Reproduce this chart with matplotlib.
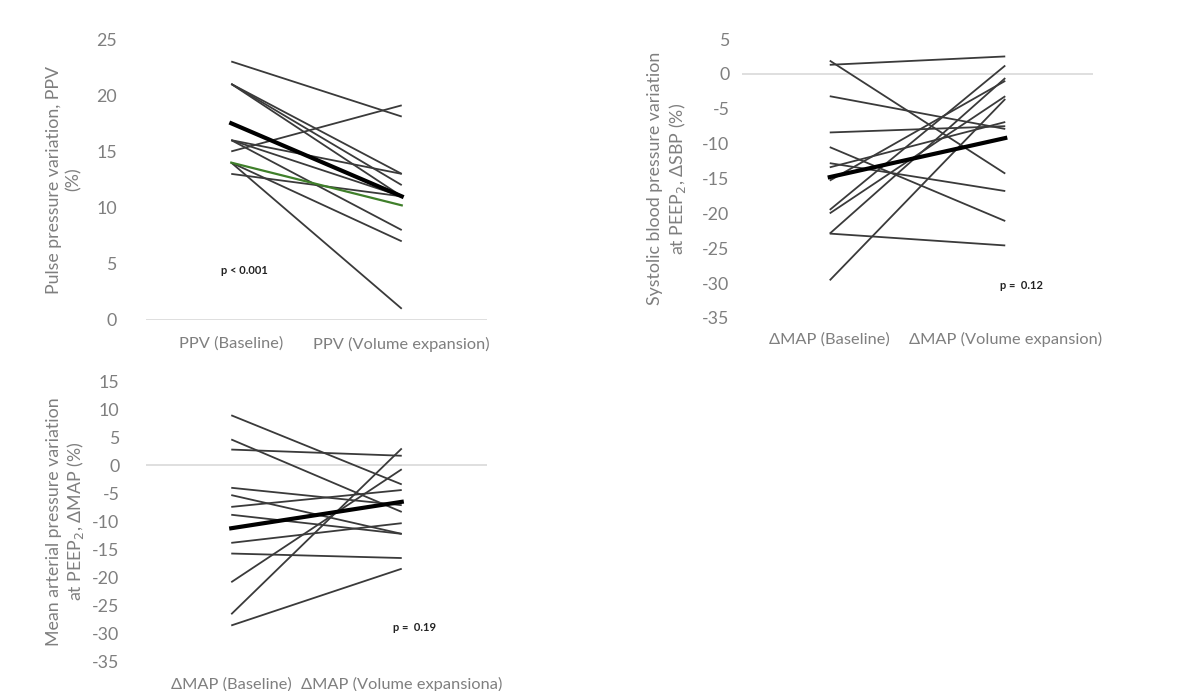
import matplotlib
matplotlib.use("Agg")
import matplotlib.pyplot as plt

plt.rcParams['font.family'] = ['Lato', 'DejaVu Sans']

# ---------------- data ----------------
ppv_cats = ["PPV (Baseline)", "PPV (Volume expansion)"]
ppv_base = [23.0, 15.0, 21.0, 21.0, 21.0, 16.0, 16.0, 16.0, 14.0, 14.0, 13.0]
ppv_vol = [18.1, 19.1, 13.0, 12.0, 11.0, 13.0, 8.0, 11.0, 7.0, 1.0, 11.0]
ppv_mean = [17.5, 11.0]
ppv_green = [14.0, 10.2]
ppv_p = "p < 0.001"

sbp_cats = ["\u0394MAP (Baseline)", "\u0394MAP (Volume expansion)"]
sbp_base = [1.3, 1.9, -3.2, -8.4, -10.5, -12.8, -13.4, -15.3, -19.5, -20.0, -22.9, -22.9, -29.6]
sbp_vol = [2.5, -14.3, -7.9, -7.5, -21.1, -16.8, -6.9, -1.0, 1.2, -3.2, -24.6, -0.6, -3.6]
sbp_mean = [-14.8, -9.2]
sbp_p = "p =  0.12"

map_cats = ["\u0394MAP (Baseline)", "\u0394MAP (Volume expansiona)"]
map_base = [8.9, 4.6, 2.8, -4.0, -5.3, -7.4, -8.8, -13.8, -15.7, -20.8, -26.5, -28.5]
map_vol = [-3.4, -8.3, 1.7, -7.1, -12.2, -4.4, -12.2, -10.3, -16.5, -0.7, 3.0, -18.4]
map_mean = [-11.2, -6.5]
map_p = "p =  0.19"

W, H = 1182, 691
fig = plt.figure(figsize=(W / 100, H / 100), dpi=100)

TICK_COL = "#7f7f7f"
LINE_COL = "#3a3a3a"


def rect(l, t, r, b):
    return [l / W, 1 - b / H, (r - l) / W, (b - t) / H]


def panel(ax, cats, base, vol, mean, ylim, yticks, ylabel, ypad, labx,
          ptxt, pxy, green=None, xpad=10):
    x = [0, 1]
    for b, v in zip(base, vol):
        ax.plot(x, [b, v], color=LINE_COL, lw=1.3, solid_capstyle='butt', zorder=2)
    if green is not None:
        ax.plot(x, green, color="#3f7f2a", lw=1.6, zorder=3)
    ax.plot(x, mean, color="black", lw=3.0, zorder=4)
    ax.set_xlim(-0.5, 1.5)
    ax.set_ylim(*ylim)
    ax.set_yticks(yticks)
    ax.set_yticklabels([str(t) for t in yticks])
    ax.set_xticks(x)
    ax.set_xticklabels(cats)
    for s in ax.spines.values():
        s.set_visible(False)
    ax.axhline(0, color="#d9d9d9", lw=1.2, zorder=1)
    ax.tick_params(axis='y', length=0, pad=ypad, labelsize=12.8, labelcolor=TICK_COL)
    ax.tick_params(axis='x', length=0, pad=xpad, labelsize=11.8, labelcolor=TICK_COL)
    ax.set_ylabel(ylabel, fontsize=12.8, color=TICK_COL, linespacing=1.2)
    ax.yaxis.set_label_coords(labx, 0.5)
    ax.text(pxy[0], pxy[1], ptxt, fontsize=8, color="#222222", ha='left', va='center',
            fontweight='bold')
    ax.patch.set_alpha(0)


ax1 = fig.add_axes(rect(146, 39, 487, 320))
panel(ax1, ppv_cats, ppv_base, ppv_vol, ppv_mean, (0, 25), [0, 5, 10, 15, 20, 25],
      "Pulse pressure variation, PPV\n(%)", 21, -0.19, ppv_p, (-0.06, 4.4), green=ppv_green,
      xpad=12)

ax2 = fig.add_axes(rect(742, 39, 1093, 318))
panel(ax2, sbp_cats, sbp_base, sbp_vol, sbp_mean, (-35, 5), list(range(-35, 6, 5)),
      "Systolic blood pressure variation\nat PEEP$_2$, \u0394SBP (%)", 9, -0.155,
      sbp_p, (0.97, -30.4))

ax3 = fig.add_axes(rect(146, 381, 487, 662))
panel(ax3, map_cats, map_base, map_vol, map_mean, (-35, 15), list(range(-35, 16, 5)),
      "Mean arterial pressure variation\nat PEEP$_2$, \u0394MAP (%)", 19, -0.175,
      map_p, (0.95, -28.8), xpad=11)

fig.savefig("out.png", dpi=100)
